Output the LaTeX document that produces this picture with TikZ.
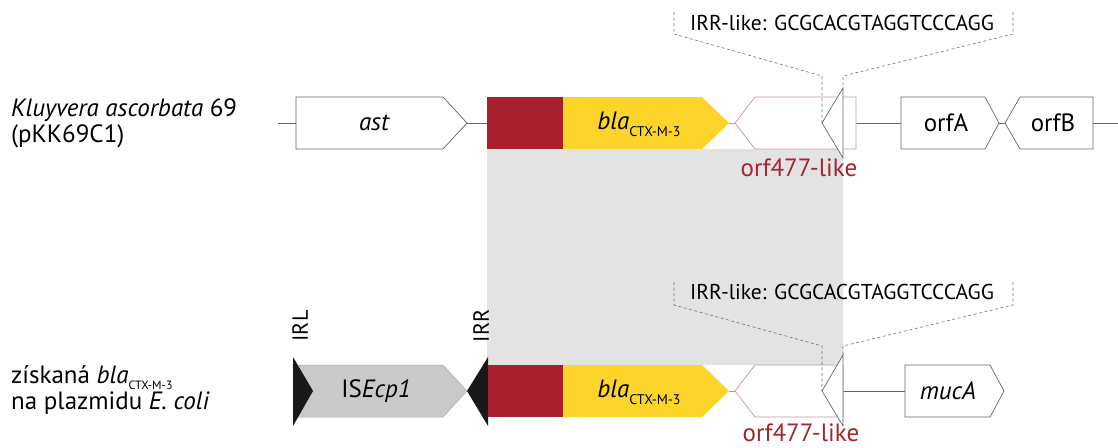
\documentclass[tikz,border=0pt]{standalone}
\usepackage{fontspec}
\setmainfont{PT Sans}
\definecolor{blared}{HTML}{A8202D}
\definecolor{blayel}{HTML}{FDD52A}
\definecolor{shadegray}{HTML}{E3E3E3}
\definecolor{isgray}{HTML}{C9C9C9}
\definecolor{orfline}{HTML}{C09A9A}
\definecolor{orftext}{HTML}{A3262F}
\definecolor{outl}{HTML}{666666}
\newcommand{\fs}[1]{\fontsize{#1}{#1}\selectfont}
\newcommand{\blasub}[2]{{\itshape bla}\raisebox{-0.28em}{\fs{#1}CTX-M-3}}
\tikzset{
  gene/.style={draw=outl, line width=0.7pt, fill=white, line join=miter},
  backbone/.style={draw=outl, line width=0.7pt},
  orfbox/.style={draw=orfline, line width=0.7pt, fill=white},
  irr/.style={draw=outl, line width=0.7pt, fill=white},
  dashline/.style={draw=black!55, line width=0.6pt, dash pattern=on 3pt off 2.5pt},
  lbl/.style={inner sep=0pt, font=\fs{25}},
  seqlbl/.style={inner sep=0pt, font=\fs{21.5}},
  redlbl/.style={inner sep=0pt, font=\fs{25}, text=orftext},
}
\begin{document}
\begin{tikzpicture}[x=1pt,y=-1pt]
\useasboundingbox (0,0) rectangle (1118,447);
% shaded homology region
\fill[shadegray] (487,149) rectangle (843,365);

% ===== top row =====
\coordinate (t0) at (278,123);
\coordinate (astL) at (296,123);
\coordinate (astR) at (467,123);
\coordinate (redL) at (487,123);
\coordinate (yelR) at (729,123);
\coordinate (orfTL) at (735,123);
\coordinate (orfTR) at (856,123);
\coordinate (orfaL) at (901,123);
\coordinate (orfaR) at (999,123);
\coordinate (orfbL) at (1005,123);
\coordinate (orfbR) at (1093,123);
\coordinate (t1) at (1118,123);
\draw[backbone] (t0) -- (astL);
\draw[backbone] (astR) -- (redL);
\draw[backbone] (orfTR) -- (orfaL);
\draw[backbone] (orfaR) -- (orfbL);
\draw[backbone] (orfbR) -- (t1);
\draw[draw=orfline, line width=0.7pt] (yelR) -- (orfTL);

\draw[gene] (296,97) -- (443,97) -- (467,123) -- (443,149) -- (296,149) -- cycle;
\fill[blared] (487,97) rectangle (563,149);
\fill[blayel] (563,97) -- (702,97) -- (729,123) -- (702,149) -- (563,149) -- cycle;
\draw[orfbox] (735,123) -- (755,97) -- (856,97) -- (856,149) -- (755,149) -- cycle;
\draw[irr] (843,88) -- (843,158) -- (822,123) -- cycle;
\draw[gene] (901,97) -- (985,97) -- (999,123) -- (985,149) -- (901,149) -- cycle;
\draw[gene] (1005,123) -- (1020,97) -- (1093,97) -- (1093,149) -- (1020,149) -- cycle;

\draw[dashline] (674,12) -- (674,34) -- (822,76) -- (822,123);
\draw[dashline] (1013,12) -- (1013,34) -- (843,76) -- (843,88);

\node[lbl] (ast) at (374,123) {\itshape ast};
\node[lbl] (bla1) at (639,124) {\blasub{14}{}};
\node[lbl] (orfA) at (946,123) {orfA};
\node[lbl] (orfB) at (1053,123) {orfB};
\node[seqlbl] (irr1) at (842,23) {IRR-like: GCGCACGTAGGTCCCAGG};
\node[redlbl] (orf1) at (799,168) {orf477-like};
\node[lbl, anchor=west, align=left, font=\fs{25}\linespread{1}\selectfont] (sp1) at (11,123)
  {\itshape Kluyvera ascorbata\upshape{} 69\\[1pt](pKK69C1)};

% ===== bottom row =====
\coordinate (irrB) at (843,391);
\coordinate (mucL) at (905,391);
\draw[backbone] (irrB) -- (mucL);
\coordinate (yelRb) at (729,391);
\coordinate (orfBL) at (735,391);
\draw[draw=orfline, line width=0.7pt] (yelRb) -- (orfBL);

\fill[isgray, draw=isgray!85!black, line width=0.5pt] (293,365) -- (443,365) -- (467,391) -- (443,417) -- (293,417) -- cycle;
\fill[black!90] (293,357) -- (313,391) -- (293,426) -- cycle;
\fill[black!90] (488,357) -- (488,426) -- (467,391) -- cycle;
\fill[blared] (488,365) rectangle (563,417);
\fill[blayel] (563,365) -- (702,365) -- (729,391) -- (702,417) -- (563,417) -- cycle;
\draw[orfbox] (735,391) -- (755,365) -- (843,365) -- (843,417) -- (755,417) -- cycle;
\draw[irr] (843,355) -- (843,426) -- (822,391) -- cycle;
\draw[gene] (905,365) -- (990,365) -- (1004,391) -- (990,417) -- (905,417) -- cycle;

\draw[dashline] (674,282) -- (674,305) -- (822,346) -- (822,391);
\draw[dashline] (1013,282) -- (1013,305) -- (843,346) -- (843,355);

\node[lbl] (isecp) at (376,391) {IS\textit{Ecp1}};
\node[lbl] (bla2) at (639,392) {\blasub{14}{}};
\node[lbl] (mucA) at (948,391) {\itshape mucA};
\node[seqlbl] (irr2) at (842,292) {IRR-like: GCGCACGTAGGTCCCAGG};
\node[redlbl] (orf2) at (801,433) {orf477-like};
\node[lbl, rotate=90, font=\fs{22}] (irl) at (300,326) {IRL};
\node[lbl, rotate=90, font=\fs{22}] (irrl) at (481,326) {IRR};
\node[lbl, anchor=west, align=left, font=\fs{25}\linespread{1}\selectfont] (sp2) at (11,390)
  {získaná {\itshape bla}\raisebox{-0.25em}{\fs{12}CTX-M-3}\\[1pt]na plazmidu \textit{E.~coli}};
\end{tikzpicture}
\end{document}
